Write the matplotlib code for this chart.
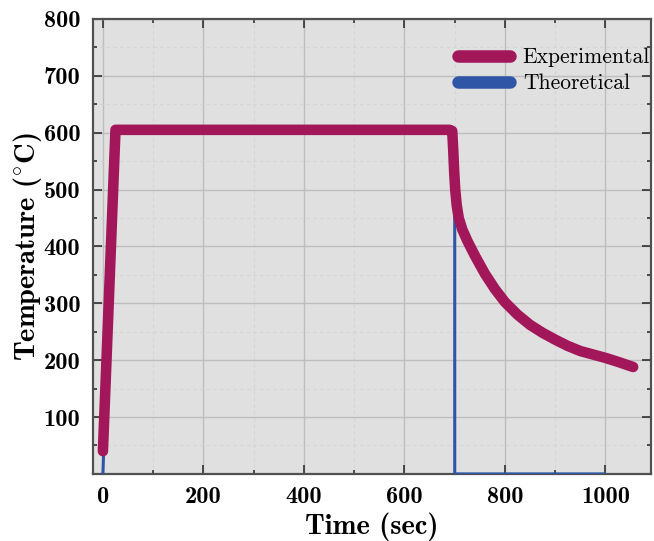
import matplotlib
matplotlib.use("Agg")
import matplotlib.pyplot as plt
from matplotlib.ticker import MultipleLocator, FixedLocator

plt.rcParams["mathtext.fontset"] = "cm"
plt.rcParams["axes.unicode_minus"] = False

# Measured furnace temperature (sec, degC)
exp_time = [0, 25, 690, 695, 697, 699, 701, 704, 708, 715, 725, 740, 760, 780, 800,
            825, 850, 875, 900, 925, 950, 975, 1000, 1025, 1055]
exp_temp = [40, 605, 605, 603, 570, 530, 500, 472, 450, 430, 410, 384, 352, 325, 302,
            280, 262, 248, 236, 225, 216, 210, 204, 197, 188]

# Idealised heat-treatment profile
theo_time = [0, 22, 700, 700, 1000]
theo_temp = [0, 600, 600, 0, 0]

x_ticks = [0, 200, 400, 600, 800, 1000]
y_ticks = [100, 200, 300, 400, 500, 600, 700, 800]

c_exp = "#A2165A"
c_theo = "#2F55A6"

fig = plt.figure(figsize=(6.54, 5.41), dpi=100)
ax = fig.add_axes([0.142, 0.124, 0.853, 0.841])
ax.set_facecolor("#E0E0E0")

ax.plot(theo_time, theo_temp, color=c_theo, lw=2.2, solid_capstyle="butt", zorder=3)
ax.plot(exp_time, exp_temp, color=c_exp, lw=7.6, solid_capstyle="round",
        solid_joinstyle="round", zorder=4)

ax.set_xlim(-20, 1090)
ax.set_ylim(0, 800)
ax.xaxis.set_major_locator(FixedLocator(x_ticks))
ax.yaxis.set_major_locator(FixedLocator(y_ticks))
ax.xaxis.set_minor_locator(MultipleLocator(100))
ax.yaxis.set_minor_locator(MultipleLocator(50))

ax.grid(which="major", color="#BDBDBD", lw=1.0, ls="-", zorder=0)
ax.grid(which="minor", color="#D4D4D4", lw=0.8, ls=(0, (3, 3)), zorder=0)
ax.set_axisbelow(True)

for s in ax.spines.values():
    s.set_color("#505050")
    s.set_linewidth(1.6)

ax.tick_params(which="both", direction="in", top=True, right=True, color="#303030", width=1.2)
ax.tick_params(which="major", length=6.5)
ax.tick_params(which="minor", length=3)
ax.tick_params(which="major", labelsize=17.5, pad=9)

for lab in ax.get_xticklabels() + ax.get_yticklabels():
    lab.set_fontfamily("cmb10")

ax.set_xlabel("Time (sec)", fontfamily="cmb10", fontsize=20.5, labelpad=3)
ax.set_ylabel(r"Temperature ($\mathbf{^{\circ}}$C)", fontfamily="cmb10", fontsize=20.5, labelpad=0)

h1, = ax.plot([], [], color=c_exp, lw=9, solid_capstyle="round", label="Experimental")
h2, = ax.plot([], [], color=c_theo, lw=9, solid_capstyle="round", label="Theoretical")
leg = ax.legend(handles=[h1, h2], loc="upper right", frameon=False,
                handlelength=2.4, handletextpad=0.6, labelspacing=0.3,
                borderaxespad=0.2, bbox_to_anchor=(1.022, 0.965),
                prop={"family": "cmr10", "size": 15.5})

fig.savefig("out.png", dpi=100)
